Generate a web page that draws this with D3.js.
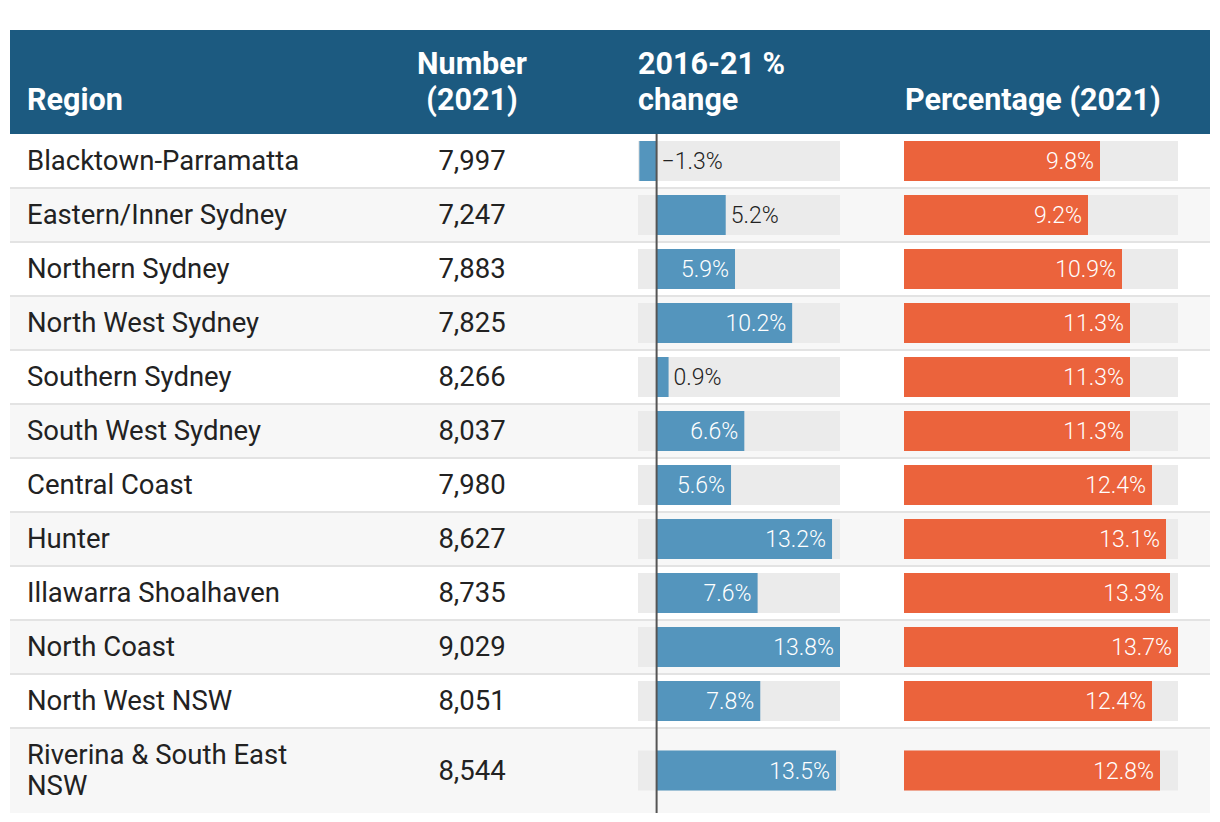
<!DOCTYPE html>
<html><head><meta charset="utf-8">
<script src="https://cdn.jsdelivr.net/npm/d3@7"></script>
<style>body{margin:0;background:#fff}svg{display:block;font-family:Roboto,sans-serif}</style>
</head><body><svg id="c" width="1220" height="822"></svg>
<script>
const regions = ["Blacktown-Parramatta","Eastern/Inner Sydney","Northern Sydney","North West Sydney","Southern Sydney","South West Sydney","Central Coast","Hunter","Illawarra Shoalhaven","North Coast","North West NSW","Riverina & South East NSW"];
const numbers = [7997,7247,7883,7825,8266,8037,7980,8627,8735,9029,8051,8544];
const changes = [-1.3,5.2,5.9,10.2,0.9,6.6,5.6,13.2,7.6,13.8,7.8,13.5];
const percents = [9.8,9.2,10.9,11.3,11.3,11.3,12.4,13.1,13.3,13.7,12.4,12.8];
const headers = [["Region"],["Number","(2021)"],["2016-21 %","change"],["Percentage (2021)"]];

const svg = d3.select("#c");
const left = 10, right = 1210, headTop = 30, headBot = 134;
const rowH = regions.map((d,i)=> i===regions.length-1 ? 85 : 54);
const rowY = []; let acc = headBot; rowH.forEach(h=>{rowY.push(acc); acc+=h;});
const bottom = acc;

const xc = d3.scaleLinear().domain([-1.4, d3.max(changes)]).range([638, 840]);
const xp = d3.scaleLinear().domain([0, d3.max(percents)]).range([904, 1178]);
const fmtN = d3.format(",");
const fmtP = v => (v<0?"\u2212":"") + Math.abs(v).toFixed(1) + "%";

// header
svg.append("rect").attr("x",left).attr("y",headTop).attr("width",right-left).attr("height",headBot-headTop).attr("fill","#1c5a80");
const hdr = svg.append("g").attr("fill","#fff").attr("font-weight",700).attr("font-size",30.5);
const hx = [{x:27,a:"start"},{x:472,a:"middle"},{x:638,a:"start"},{x:905,a:"start"}];
headers.forEach((lines,i)=>{
  lines.forEach((t,j)=>{
    hdr.append("text").attr("x",hx[i].x).attr("y",110 - (lines.length-1-j)*36)
      .attr("text-anchor",hx[i].a).text(t);
  });
});

// rows
const rows = svg.selectAll("g.row").data(regions).join("g").attr("class","row")
  .attr("transform",(d,i)=>`translate(0,${rowY[i]})`);
rows.append("rect").attr("x",left).attr("width",right-left).attr("height",(d,i)=>rowH[i])
  .attr("fill",(d,i)=> i%2 ? "#f7f7f7" : "#ffffff");
rows.filter((d,i)=>i>0).append("rect").attr("x",left).attr("width",right-left).attr("y",-1).attr("height",2).attr("fill","#e3e3e3");

rows.each(function(d,i){
  const g = d3.select(this), h = rowH[i], cy = h/2;
  const words = d === "Riverina & South East NSW" ? ["Riverina & South East","NSW"] : [d];
  words.forEach((w,j)=>{
    g.append("text").attr("x",27).attr("y",cy - 0.5 + (j-(words.length-1)/2)*31).attr("dy","0.35em")
      .attr("font-size",27.5).attr("fill","#222").text(w);
  });
  g.append("text").attr("x",472).attr("y",cy - 0.5).attr("dy","0.35em").attr("text-anchor","middle")
    .attr("font-size",27.5).attr("fill","#222").text(fmtN(numbers[i]));
  // change bar
  const v = changes[i];
  g.append("rect").attr("x",xc.range()[0]).attr("y",cy-20).attr("width",xc.range()[1]-xc.range()[0]).attr("height",40).attr("fill","#ebebeb");
  g.append("rect").attr("x",Math.min(xc(0),xc(v))).attr("y",cy-20).attr("width",Math.abs(xc(v)-xc(0))).attr("height",40).attr("fill","#5495bd");
  const inside = v >= 5.5;
  g.append("text").attr("x", inside ? xc(v)-6 : Math.max(xc(v),xc(0))+5).attr("y",cy).attr("dy","0.35em")
    .attr("text-anchor", inside ? "end":"start").attr("font-size",23).attr("font-weight",300)
    .attr("fill", inside ? "#fff" : "#222").text(fmtP(v));
  // percentage bar
  const p = percents[i];
  g.append("rect").attr("x",xp.range()[0]).attr("y",cy-20).attr("width",xp.range()[1]-xp.range()[0]).attr("height",40).attr("fill","#ebebeb");
  g.append("rect").attr("x",xp(0)).attr("y",cy-20).attr("width",xp(p)-xp(0)).attr("height",40).attr("fill","#eb633c");
  g.append("text").attr("x",xp(p)-6).attr("y",cy).attr("dy","0.35em").attr("text-anchor","end")
    .attr("font-size",23).attr("font-weight",300).attr("fill","#fff").text(fmtP(p));
});

// zero line
svg.append("line").attr("x1",xc(0)).attr("x2",xc(0)).attr("y1",headBot).attr("y2",bottom)
  .attr("stroke","#555").attr("stroke-width",2);
</script></body></html>
